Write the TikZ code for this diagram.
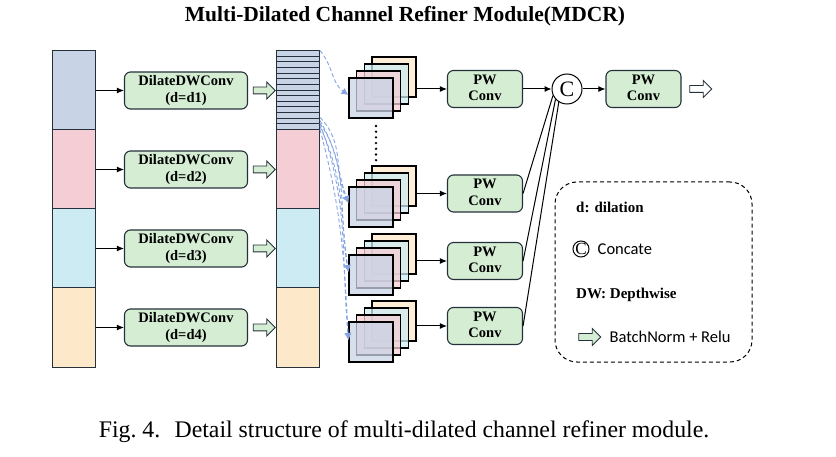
\documentclass[tikz,border=0pt]{standalone}
\usepackage{fontspec}
\setmainfont{Liberation Serif}
\newfontfamily\legendsans{Carlito}
\usetikzlibrary{positioning,shapes.arrows,arrows.meta}
\definecolor{segblue}{HTML}{C9D3E6}
\definecolor{segpink}{HTML}{F5CDD4}
\definecolor{segcyan}{HTML}{CDEBF2}
\definecolor{segorange}{HTML}{FEE8CA}
\definecolor{boxgreen}{HTML}{D4EDD3}
\definecolor{boxline}{HTML}{25313A}
\definecolor{dashblue}{HTML}{85A3E0}
\newcommand{\dwconv}[1]{\begin{tabular}{@{}c@{}}
  DilateDWConv \\
  (d=#1)
\end{tabular}}
\newcommand{\pwconv}{\begin{tabular}{@{}c@{}}
  PW \\
  Conv
\end{tabular}}
\newcommand{\fmapstack}[3]{%
  \node[fmap, fill=segorange] (#1o) at (#2+23,#3-21) {};
  \node[fmap, fill=segcyan] (#1c) at (#2+15.4,#3-14) {};
  \node[fmap, fill=segpink] (#1p) at (#2+7.7,#3-7) {};
  \node[fmap, fill=segblue] (#1b) at (#2,#3) {};
}

\begin{document}
\begin{tikzpicture}[x=1pt, y=-1pt,
    seg/.style={draw=boxline, line width=1pt, minimum width=43pt, minimum height=79pt, inner sep=0pt},
    convbox/.style={draw=boxline, fill=boxgreen, line width=1.1pt, rounded corners=6pt, minimum height=37pt, inner sep=0pt, font=\fontsize{14.5}{16.5}\selectfont\bfseries},
    dwbox/.style={convbox, minimum width=123pt},
    pwbox/.style={convbox, minimum width=75pt},
    fmap/.style={draw=black, line width=1.1pt, minimum width=44pt, minimum height=40pt, inner sep=0pt, fill opacity=0.75},
    bnarrow/.style={single arrow, draw=boxline, fill=boxgreen, line width=0.9pt, minimum height=22pt, inner xsep=0pt, inner ysep=3pt, single arrow head extend=5pt},
    concat/.style={circle, draw=black, line width=1pt, minimum size=30pt, inner sep=0pt, font=\fontsize{22}{22}\selectfont},
    flow/.style={line width=1pt, -{Latex[length=7pt,width=6pt]}},
    dashcurve/.style={dashblue, line width=0.9pt, dash pattern=on 4pt off 2.5pt, -{Latex[length=7pt,width=7pt]}},
    legendtxt/.style={font=\fontsize{15}{15}\selectfont\bfseries, inner sep=0pt},
    sanstxt/.style={font=\legendsans\fontsize{16.5}{16.5}\selectfont, inner sep=0pt}]
    \useasboundingbox (0,0) rectangle (836,457);

    \node[font=\fontsize{21.5}{24}\selectfont\bfseries] (title) at (405,16) {Multi-Dilated Channel Refiner Module(MDCR)};

    \node[seg, fill=segblue] (l1) at (73.5,90.5) {};
    \node[seg, fill=segpink] (l2) at (73.5,169.5) {};
    \node[seg, fill=segcyan] (l3) at (73.5,248.5) {};
    \node[seg, fill=segorange] (l4) at (73.5,327.5) {};

    \node[dwbox] (dw1) at (186,90.5) {\dwconv{d1}};
    \node[dwbox] (dw2) at (186,169.5) {\dwconv{d2}};
    \node[dwbox] (dw3) at (186,248.5) {\dwconv{d3}};
    \node[dwbox] (dw4) at (186,327.5) {\dwconv{d4}};

    \draw[flow] (l1.east) -- (dw1.west);
    \draw[flow] (l2.east) -- (dw2.west);
    \draw[flow] (l3.east) -- (dw3.west);
    \draw[flow] (l4.east) -- (dw4.west);

    \node[bnarrow] (bn1) at (262.5,90.5) {};
    \node[bnarrow] (bn2) at (262.5,169.5) {};
    \node[bnarrow] (bn3) at (262.5,248.5) {};
    \node[bnarrow] (bn4) at (262.5,327.5) {};

    \node[seg, fill=segblue] (r1) at (298,90.5) {};
    \node[seg, fill=segpink] (r2) at (298,169.5) {};
    \node[seg, fill=segcyan] (r3) at (298,248.5) {};
    \node[seg, fill=segorange] (r4) at (298,327.5) {};
    \foreach \k in {1,...,13}
      \draw[boxline, line width=0.8pt] ([yshift=-\k*5.64pt]r1.north west) -- ([yshift=-\k*5.64pt]r1.north east);

    \fmapstack{g1}{371}{98}
    \fmapstack{g2}{371}{207}
    \fmapstack{g3}{371}{275}
    \fmapstack{g4}{371}{342}
    \foreach \k in {0,...,6}
      \fill (376,126+\k*5.7) circle (1.3);

    \draw[dashcurve] (r1.north east) to[out=-50,in=145] ([yshift=3pt]g1b.west);
    \draw[dashcurve] ([yshift=13pt]r1.south east) to[out=-45,in=115] ([yshift=4pt]g2b.west);
    \draw[dashcurve] ([yshift=7pt]r1.south east) to[out=-55,in=110] ([yshift=4pt]g2b.west);
    \draw[dashcurve] ([yshift=10pt]r1.south east) to[out=-60,in=100] ([yshift=3pt]g3b.west);
    \draw[dashcurve] ([yshift=4pt]r1.south east) to[out=-65,in=98] ([yshift=3pt]g3b.west);
    \draw[dashcurve] ([yshift=7pt]r1.south east) to[out=-70,in=95] ([yshift=2pt]g4b.west);
    \draw[dashcurve] ([yshift=1pt]r1.south east) to[out=-75,in=93] ([yshift=2pt]g4b.west);

    \node[pwbox] (pw1) at (485,89) {\pwconv};
    \node[pwbox] (pw2) at (485,193.5) {\pwconv};
    \node[pwbox] (pw3) at (485,261) {\pwconv};
    \node[pwbox] (pw4) at (485,326) {\pwconv};

    \draw[flow] (g1o.east |- pw1.west) -- (pw1.west);
    \draw[flow] (g2o.east |- pw2.west) -- (pw2.west);
    \draw[flow] (g3o.east |- pw3.west) -- (pw3.west);
    \draw[flow] (g4o.east |- pw4.west) -- (pw4.west);

    \node[concat] (cc) at (567,89) {C};
    \node[pwbox] (pw5) at (643.5,89) {\pwconv};
    \node[bnarrow, fill=white] (out) at (699,89) {};

    \draw[flow] (pw1.east) -- (cc.west);
    \draw[flow] (cc.east) -- (pw5.west);
    \draw[line width=1pt] (pw2.east) -- (cc.205);
    \draw[line width=1pt] (pw3.east) -- (cc.222);
    \draw[line width=1pt] (pw4.east) -- (cc.238);

    \node[draw=black, line width=1pt, dash pattern=on 4pt off 3pt, rounded corners=22pt, minimum width=197pt, minimum height=180pt] (legend) at (653.5,272) {};
    \node[legendtxt, anchor=west] (ldil) at (576,207) {d: dilation};
    \node[concat, minimum size=15pt, font=\fontsize{17}{17}\selectfont] (lcat) at (581,249) {C};
    \node[sanstxt, right=8pt of lcat] (lcattxt) {Concate};
    \node[legendtxt, anchor=west] (ldw) at (576,295) {DW: Depthwise};
    \node[bnarrow] (lbn) at (588,337) {};
    \node[sanstxt, right=8pt of lbn] (lbntxt) {BatchNorm + Relu};

    \node[font=\fontsize{23.8}{26}\selectfont] (caption) at (404,432) {Fig.~4.\hspace{0.6em}Detail structure of multi-dilated channel refiner module.};
\end{tikzpicture}
\end{document}
